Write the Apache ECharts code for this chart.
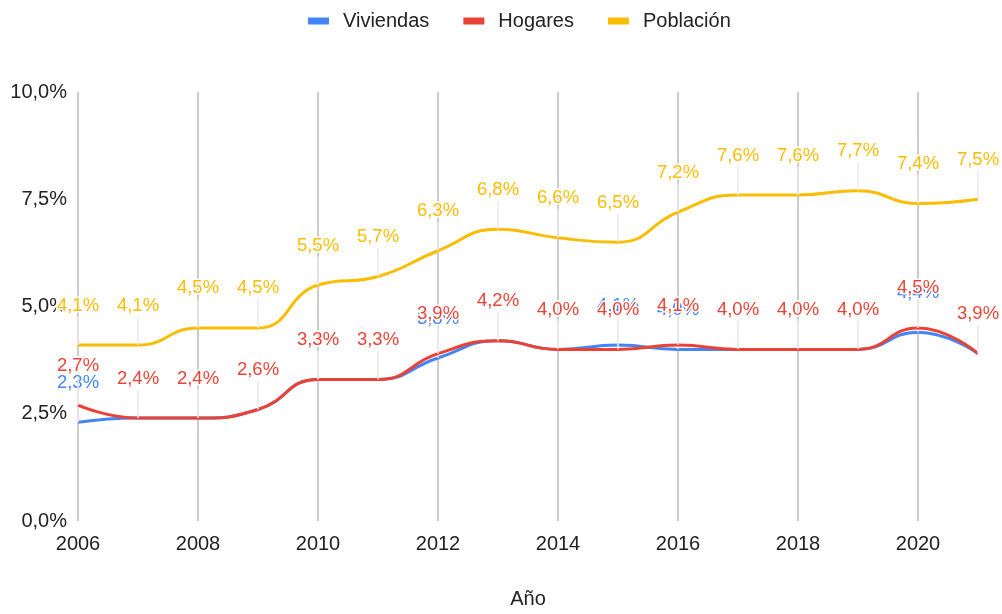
<!DOCTYPE html>
<html>
<head>
<meta charset="utf-8">
<script src="https://cdn.jsdelivr.net/npm/echarts@6/dist/echarts.min.js"></script>
<style>
html,body{margin:0;padding:0;background:#fff;}
#chart{width:1002px;height:614px;}
</style>
</head>
<body>
<div id="chart"></div>
<script>
const years = ['2006','2007','2008','2009','2010','2011','2012','2013','2014','2015','2016','2017','2018','2019','2020','2021'];
const viviendas = [2.3,2.4,2.4,2.6,3.3,3.3,3.8,4.2,4.0,4.1,4.0,4.0,4.0,4.0,4.4,3.9];
const hogares   = [2.7,2.4,2.4,2.6,3.3,3.3,3.9,4.2,4.0,4.0,4.1,4.0,4.0,4.0,4.5,3.9];
const poblacion = [4.1,4.1,4.5,4.5,5.5,5.7,6.3,6.8,6.6,6.5,7.2,7.6,7.6,7.7,7.4,7.5];
const yTicks = [0, 2.5, 5, 7.5, 10];

const FONT = '"Liberation Sans", Arial, sans-serif';
const fmt = v => v.toFixed(1).replace('.', ',') + '%';

function mk(name, data, color, z) {
  return {
    name: name,
    type: 'line',
    data: data,
    smooth: 0.5,
    smoothConstraint: false,
    symbol: 'circle',
    symbolSize: 0.1,
    showSymbol: true,
    z: z,
    lineStyle: { color: color, width: 3 },
    itemStyle: { color: color },
    label: {
      show: true,
      position: 'top',
      distance: 4,
      color: color,
      fontSize: 18.5,
      fontFamily: FONT,
      textBorderColor: '#fff',
      textBorderWidth: 3,
      formatter: p => fmt(p.value)
    },
    labelLayout: { dy: -26 },
    labelLine: { show: true, lineStyle: { color: '#ebebeb', width: 1.5 } },
    emphasis: { disabled: true }
  };
}

const chart = echarts.init(document.getElementById('chart'), null, { renderer: 'canvas' });
chart.setOption({
  animation: false,
  backgroundColor: '#fff',
  textStyle: { fontFamily: FONT },
  legend: {
    top: 6,
    left: 303,
    icon: 'rect',
    itemWidth: 21,
    itemHeight: 7,
    itemGap: 34,
    textStyle: { fontSize: 20, color: '#222', fontFamily: FONT, padding: [0, 0, 0, 9] },
    data: ['Viviendas', 'Hogares', 'Población']
  },
  grid: { left: 78, right: 24, top: 92, bottom: 89, containLabel: false },
  xAxis: {
    type: 'category',
    data: years,
    boundaryGap: false,
    name: 'Año',
    nameLocation: 'middle',
    nameGap: 68,
    nameTextStyle: { fontSize: 20, color: '#222', fontFamily: FONT },
    axisLine: { show: false },
    axisTick: { show: false },
    axisLabel: { interval: 1, fontSize: 20, color: '#222', margin: 13, fontFamily: FONT },
    splitLine: {
      show: true,
      interval: (i) => i % 2 === 0,
      lineStyle: { color: '#cccccc', width: 2 }
    }
  },
  yAxis: {
    type: 'value',
    min: yTicks[0],
    max: yTicks[yTicks.length - 1],
    interval: yTicks[1] - yTicks[0],
    axisLine: { show: false },
    axisTick: { show: false },
    splitLine: { show: false },
    axisLabel: { fontSize: 20, color: '#222', margin: 11, fontFamily: FONT, formatter: v => fmt(v) }
  },
  series: [
    mk('Viviendas', viviendas, '#4285f4', 2),
    mk('Hogares', hogares, '#ea4335', 3),
    mk('Población', poblacion, '#fbbc04', 4)
  ]
});
</script>
</body>
</html>
